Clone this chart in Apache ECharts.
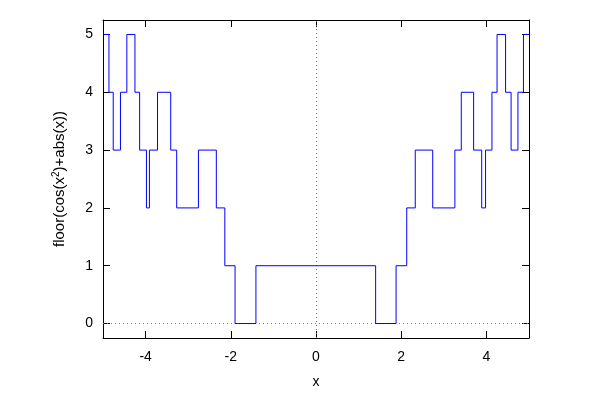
<!DOCTYPE html>
<html>
<head>
<meta charset="utf-8">
<script src="https://cdn.jsdelivr.net/npm/echarts@6/dist/echarts.min.js"></script>
<style>
  html, body { margin: 0; padding: 0; background: #fff; }
  #chart { width: 600px; height: 400px; }
</style>
</head>
<body>
<div id="chart"></div>
<script>
// x where each level starts, and the level itself
const stepX = [-5, -4.86, -4.76, -4.59, -4.44, -4.25, -4.14, -3.98, -3.91, -3.72,
  -3.41, -3.27, -2.76, -2.34, -2.14, -1.90, -1.41, 1.40, 1.88, 2.13,
  2.33, 2.74, 3.26, 3.41, 3.70, 3.89, 3.98, 4.13, 4.25, 4.45,
  4.58, 4.74, 4.87, 5];
const stepY = [5, 4, 3, 4, 5, 4, 3, 2, 3, 4,
  3, 2, 3, 2, 1, 0, 1, 0, 1, 2,
  3, 2, 3, 4, 3, 2, 3, 4, 5, 4,
  3, 4, 5, 5];
const xTicks = [-4, -2, 0, 2, 4];
const yTicks = [0, 1, 2, 3, 4, 5];

const font = "Liberation Sans, Arial, sans-serif";
const chart = echarts.init(document.getElementById("chart"));

const frameLine = { show: true, onZero: false, lineStyle: { color: "#000", width: 1 } };
const tickIn = (vals) => ({ show: true, inside: true, length: 7, customValues: vals, lineStyle: { color: "#000", width: 1 } });

let option = {
  animation: false,
  grid: { left: 103, right: 71, top: 20, bottom: 62 },
  xAxis: [
    {
      type: "value", min: -5, max: 5,
      name: "x", nameLocation: "middle", nameGap: 37,
      nameTextStyle: { fontFamily: font, fontSize: 14, color: "#000" },
      axisLine: frameLine,
      axisTick: tickIn(xTicks),
      axisLabel: { customValues: xTicks, margin: 12, fontFamily: font, fontSize: 14, color: "#000" },
      splitLine: { show: false }
    },
    {
      type: "value", min: -5, max: 5, position: "top",
      axisLine: frameLine,
      axisTick: tickIn(xTicks),
      axisLabel: { show: false },
      splitLine: { show: false }
    }
  ],
  yAxis: [
    {
      type: "value", min: -0.25, max: 5.25,
      name: "floor(cos(x{sup|2})+abs(x))", nameLocation: "middle", nameGap: 34,
      nameTextStyle: {
        fontFamily: font, fontSize: 15, color: "#000",
        rich: { sup: { fontFamily: font, fontSize: 10, color: "#000", padding: [0, 0, 8, 0] } }
      },
      axisLine: frameLine,
      axisTick: tickIn(yTicks),
      axisLabel: { customValues: yTicks, margin: 10, fontFamily: font, fontSize: 14, color: "#000" },
      splitLine: { show: false }
    },
    {
      type: "value", min: -0.25, max: 5.25, position: "right",
      axisLine: frameLine,
      axisTick: tickIn(yTicks),
      axisLabel: { show: false },
      splitLine: { show: false }
    }
  ],
  series: [
    {
      type: "line",
      step: "end",
      data: stepX.map((x, i) => [x, stepY[i]]),
      showSymbol: false,
      lineStyle: { color: "#0000ff", width: 1 },
      z: 3,
      markLine: {
        silent: true,
        symbol: "none",
        label: { show: false },
        lineStyle: { color: "#777", width: 1, type: [1, 3] },
        data: [{ xAxis: 0 }, { yAxis: 0 }],
        z: 1
      }
    }
  ]
};
chart.setOption(option);
</script>
</body>
</html>
